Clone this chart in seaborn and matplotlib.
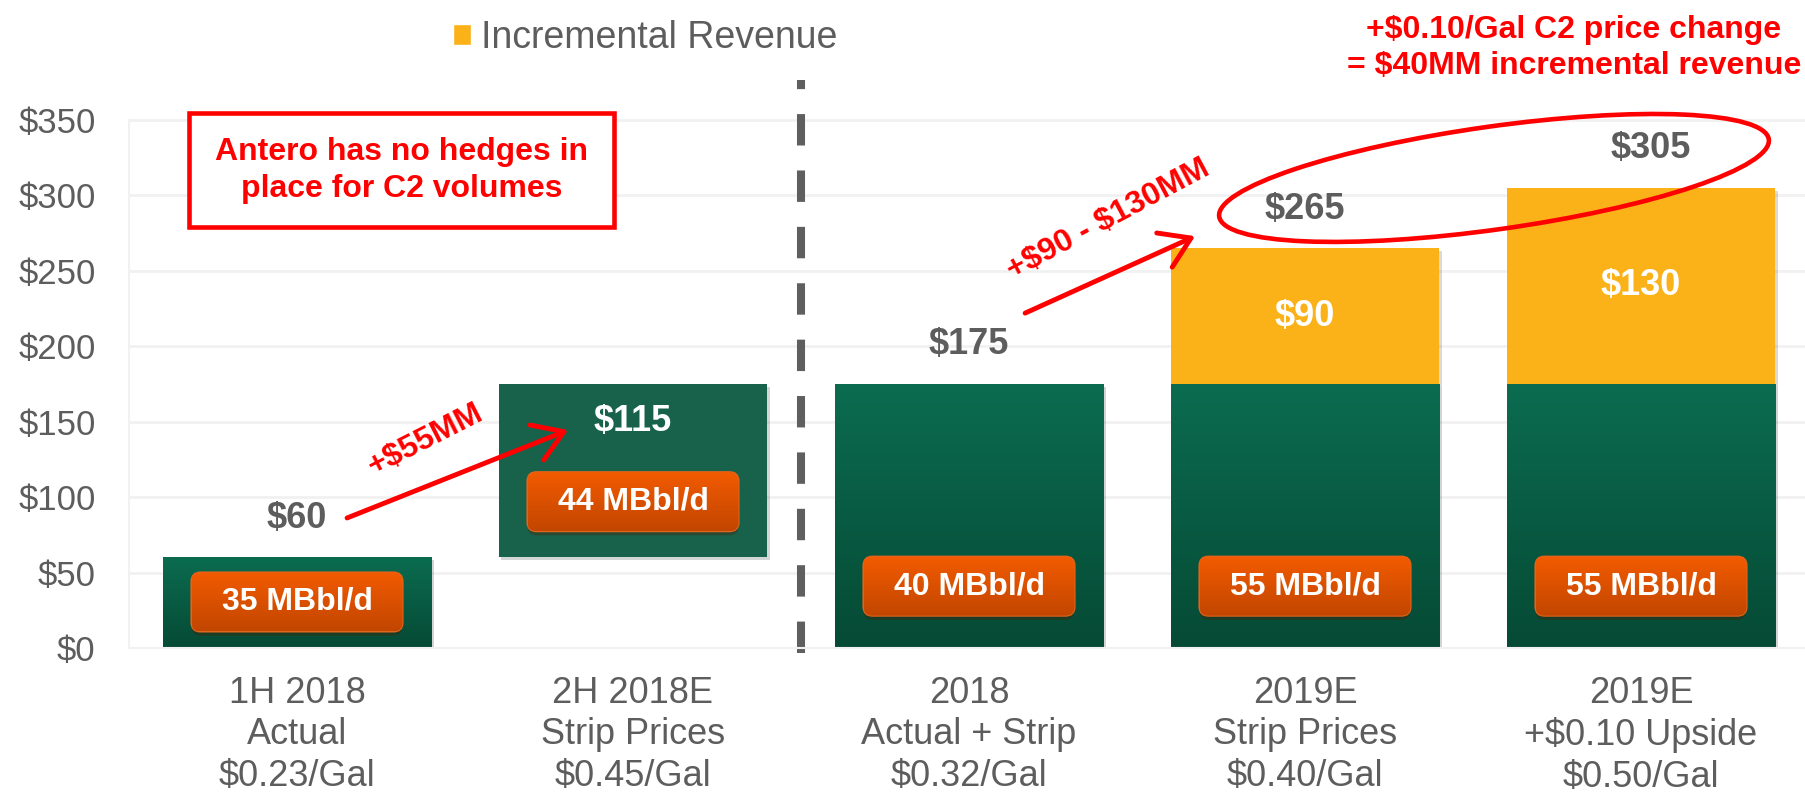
import numpy as np
import pandas as pd
import matplotlib.pyplot as plt
import matplotlib.patheffects as pe
from matplotlib.patches import FancyBboxPatch, Rectangle, Ellipse, Patch
from matplotlib.colors import LinearSegmentedColormap
from matplotlib.transforms import IdentityTransform
import seaborn as sns

# data
categories = ['1H 2018\nActual\n$0.23/Gal',
              '2H 2018E\nStrip Prices\n$0.45/Gal',
              '2018\nActual + Strip\n$0.32/Gal',
              '2019E\nStrip Prices\n$0.40/Gal',
              '2019E\n+$0.10 Upside\n$0.50/Gal']
base_bottom = [0, 60, 0, 0, 0]
base_value = [60, 115, 175, 175, 175]
incremental = [0, 0, 0, 90, 130]
volumes = [35, 44, 40, 55, 55]
yticks = [0, 50, 100, 150, 200, 250, 300, 350]

GREEN_TOP = '#0b6c50'
GREEN_BOT = '#064a35'
GREEN_FLAT = '#18624c'
YELLOW = '#fbb118'
ORANGE_TOP = '#f35b00'
ORANGE_BOT = '#c24600'
GREY = '#5d5d5d'
RED = '#ff0000'
GRID = '#f1f1f1'


def esc(s):
    return s.replace('$', r'\$')


sns.set_style('white')
plt.rcParams['font.family'] = ['Liberation Sans', 'DejaVu Sans']

fig = plt.figure(figsize=(18.06, 7.93), dpi=100)
ax = fig.add_axes([129 / 1806, 1 - 648 / 793, 1680 / 1806, 603.4 / 793])

df = pd.DataFrame({'period': categories, 'bottom': base_bottom,
                   'base': base_value, 'incr': incremental})

# green base bars (the 2H bar floats on top of the 1H value)
sns.barplot(data=df, x='period', y='base', color=GREEN_TOP, width=0.8,
            saturation=1, errorbar=None, ax=ax)
green_bars = list(ax.patches)
for bar, b in zip(green_bars, df['bottom']):
    bar.set_y(b)

# incremental revenue stacked on top
n = len(ax.patches)
sns.barplot(data=df, x='period', y='incr', color=YELLOW, width=0.8,
            saturation=1, errorbar=None, ax=ax)
yellow_bars = list(ax.patches[n:])
for bar, b in zip(yellow_bars, df['bottom'] + df['base']):
    bar.set_y(b)

ax.set_xlim(-0.5, 4.5)
ax.set_ylim(0, 400)

shadow = [pe.SimplePatchShadow(offset=(2, -2), alpha=0.18), pe.Normal()]
for bar in green_bars + yellow_bars:
    bar.set_zorder(2)
    bar.set_linewidth(0)
    if bar.get_height() > 0:
        bar.set_path_effects(shadow)

# gradient fill on the green bars
green_cmap = LinearSegmentedColormap.from_list('g', [GREEN_TOP, GREEN_BOT])
grad = np.linspace(0, 1, 256).reshape(-1, 1)
for i, bar in enumerate(green_bars):
    if i == 1:
        bar.set_facecolor(GREEN_FLAT)
        continue
    x0, y0 = bar.get_x(), bar.get_y()
    im = ax.imshow(grad, cmap=green_cmap, aspect='auto', origin='upper', zorder=2.1,
                   extent=[x0, x0 + bar.get_width(), y0, y0 + bar.get_height()])
    im.set_clip_path(bar)

ax.set_xlim(-0.5, 4.5)
ax.set_ylim(0, 400)

# pixel scale for boxes / ellipse
o = ax.transData.transform((0, 0))
px_x = ax.transData.transform((1, 0))[0] - o[0]
px_y = ax.transData.transform((0, 1))[1] - o[1]

# orange volume badges
box_y = [30.5, 97, 41, 41, 41]
box_w = 211 / px_x
box_h = 59 / px_y
orange_cmap = LinearSegmentedColormap.from_list('o', [ORANGE_TOP, ORANGE_BOT])
for i, (v, yc) in enumerate(zip(volumes, box_y)):
    box = FancyBboxPatch((i - box_w / 2, yc - box_h / 2), box_w, box_h,
                         boxstyle=f'round,pad=0,rounding_size={9 / px_x}',
                         mutation_aspect=px_x / px_y, fc=ORANGE_TOP, ec='#e2651e',
                         lw=1.5, zorder=3)
    box.set_path_effects([pe.SimplePatchShadow(offset=(0, -3), alpha=0.35), pe.Normal()])
    ax.add_patch(box)
    im = ax.imshow(grad, cmap=orange_cmap, aspect='auto', origin='upper', zorder=3.1,
                   extent=[i - box_w / 2, i + box_w / 2, yc - box_h / 2, yc + box_h / 2])
    im.set_clip_path(box)
    ax.text(i, yc, f'{v} MBbl/d', ha='center', va='center', color='white',
            fontsize=23, fontweight='bold', zorder=4)

ax.set_xlim(-0.5, 4.5)
ax.set_ylim(0, 400)

# value labels
tops = df['bottom'] + df['base'] + df['incr']
for i, t in enumerate(tops):
    if i == 1:
        ax.text(i, t - 25, f'\\${base_value[i]}', ha='center', va='center',
                color='white', fontsize=26, fontweight='bold', zorder=4)
    else:
        ax.text(i + (0.03 if i == 4 else 0), t + 26, f'\\${t}', ha='center', va='center',
                color=GREY, fontsize=26, fontweight='bold', zorder=4)
for i, (b, h) in enumerate(zip(df['bottom'] + df['base'], df['incr'])):
    if h > 0:
        ax.text(i, b + h / 2, f'\\${h}', ha='center', va='center', color='white',
                fontsize=26, fontweight='bold', zorder=4)

# divider between 2018 halves and full-year views
ax.plot([1.5, 1.5], [-3.3, 376.5], color='#5f5f5f', lw=5.8,
        linestyle=(0, (3.9, 3.1)), clip_on=False, zorder=2)

# arrows and their labels
arrow = dict(arrowstyle='->,head_length=0.7,head_width=0.45', color=RED, lw=3.5,
             mutation_scale=30, shrinkA=0, shrinkB=0)
ax.annotate('', xy=(0.807, 144.5), xytext=(0.149, 86.2), arrowprops=arrow, zorder=5)
ax.annotate('', xy=(2.673, 273), xytext=(2.167, 222), arrowprops=arrow, zorder=5)
ax.text(0.381, 138, esc('+$55MM'), rotation=27, ha='center', va='center',
        color=RED, fontsize=23, fontweight='bold', zorder=5)
ax.text(2.414, 284, esc('+$90 - $130MM'), rotation=28, ha='center', va='center',
        color=RED, fontsize=23, fontweight='bold', zorder=5)

# callout box
ax.add_patch(Rectangle((-0.3214, 279), 1.265, 75.6, fc='white', ec=RED, lw=3.3, zorder=3))
ax.text(0.311, 316.5, 'Antero has no hedges in\nplace for C2 volumes', ha='center',
        va='center', color=RED, fontsize=23, fontweight='bold', linespacing=1.3, zorder=4)

# ellipse around the 2019 totals
cx, cy = ax.transData.transform((3.5625, 311.6))
ax.add_patch(Ellipse((cx, cy), 555, 103, angle=8, transform=IdentityTransform(),
                     fill=False, ec=RED, lw=3.3, zorder=5, clip_on=False))

fig.text(1574 / 1806, 1 - 48 / 793,
         esc('+$0.10/Gal C2 price change\n= $40MM incremental revenue'),
         ha='center', va='center', color=RED, fontsize=23, fontweight='bold',
         linespacing=1.24)

# axes styling
ax.set_yticks(yticks)
ax.set_yticklabels([f'\\${v}' for v in yticks])
ax.set_xticks(range(len(categories)))
ax.set_xticklabels([esc(c) for c in categories], linespacing=1.24)
ax.set_xticks(np.arange(-0.5, len(categories), 1), minor=True)
ax.set_xlabel('')
ax.set_ylabel('')
ax.tick_params(axis='y', length=8, width=1.5, color=GRID, pad=16,
               labelsize=25, labelcolor=GREY)
ax.tick_params(axis='x', which='major', length=0, pad=20, labelsize=26, labelcolor=GREY)
ax.tick_params(axis='x', which='minor', length=7, width=1.5, color=GRID)
ax.yaxis.grid(True, color=GRID, lw=2)
ax.set_axisbelow(True)
for side in ['top', 'right']:
    ax.spines[side].set_visible(False)
ax.spines['left'].set_color(GRID)
ax.spines['left'].set_linewidth(1.5)
ax.spines['left'].set_bounds(0, 350)
ax.spines['bottom'].set_color(GRID)
ax.spines['bottom'].set_linewidth(1.5)

ax.legend(handles=[Patch(facecolor=YELLOW, label='Incremental Revenue')],
          loc='center', bbox_to_anchor=(645 / 1806, 1 - 38 / 793),
          bbox_transform=fig.transFigure, frameon=False, fontsize=27,
          handlelength=0.5, handleheight=0.5, handletextpad=0.25, labelcolor=GREY)

fig.savefig('out.png', dpi=100)
